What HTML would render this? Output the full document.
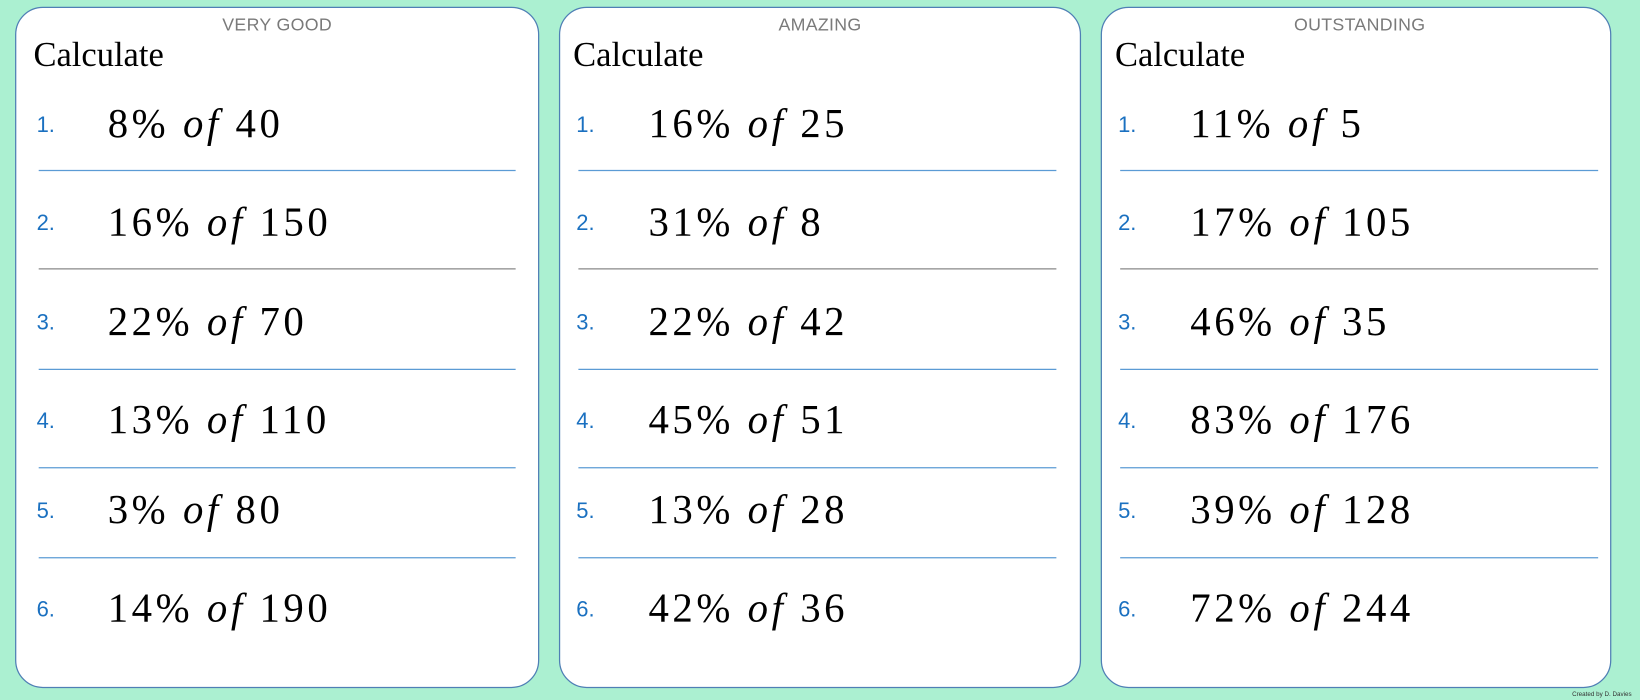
<!DOCTYPE html>
<html><head><meta charset="utf-8"><style>
html,body{margin:0;padding:0;background:#abf0d1;width:1640px;height:700px;overflow:hidden}
svg{display:block}
.h{font-family:"Liberation Sans",sans-serif;font-size:17px;fill:#7a7a7a;text-anchor:middle;letter-spacing:0.3px}
.c{font-family:"Liberation Serif",serif;font-size:33px;fill:#000}
.n{font-family:"Liberation Sans",sans-serif;font-size:21px;fill:#1a70c0}
.m{font-family:"Liberation Serif",serif;font-size:39px;fill:#000;letter-spacing:3.4px}
.i{font-style:italic}
</style></head><body>
<svg width="1640" height="700" viewBox="0 0 1568 669" preserveAspectRatio="none" xmlns="http://www.w3.org/2000/svg">
<rect width="1568" height="669" fill="#abf0d1"/>
<g>
<rect x="15" y="7" width="500" height="650" rx="26" fill="#fff" stroke="#4f7fb5" stroke-width="1.2"/>
<text class="h" x="265" y="29">VERY GOOD</text>
<text class="c" x="32" y="63">Calculate</text>
<g stroke-width="1.2">
<line x1="37" x2="493" y1="163" y2="163" stroke="#5b9bd5"/>
<line x1="37" x2="493" y1="257" y2="257" stroke="#888"/>
<line x1="37" x2="493" y1="353" y2="353" stroke="#5b9bd5"/>
<line x1="37" x2="493" y1="447" y2="447" stroke="#5b9bd5"/>
<line x1="37" x2="493" y1="533" y2="533" stroke="#5b9bd5"/>
</g>
<text class="n" x="35" y="126">1.</text><text class="m" x="103" y="131">8% <tspan class="i">of</tspan> 40</text>
<text class="n" x="35" y="220">2.</text><text class="m" x="103" y="225">16% <tspan class="i">of</tspan> 150</text>
<text class="n" x="35" y="315">3.</text><text class="m" x="103" y="320">22% <tspan class="i">of</tspan> 70</text>
<text class="n" x="35" y="409">4.</text><text class="m" x="103" y="414">13% <tspan class="i">of</tspan> 110</text>
<text class="n" x="35" y="495">5.</text><text class="m" x="103" y="500">3% <tspan class="i">of</tspan> 80</text>
<text class="n" x="35" y="589">6.</text><text class="m" x="103" y="594">14% <tspan class="i">of</tspan> 190</text>
</g>
<g>
<rect x="535" y="7" width="498" height="650" rx="26" fill="#fff" stroke="#4f7fb5" stroke-width="1.2"/>
<text class="h" x="784" y="29">AMAZING</text>
<text class="c" x="548" y="63">Calculate</text>
<g stroke-width="1.2">
<line x1="553" x2="1010" y1="163" y2="163" stroke="#5b9bd5"/>
<line x1="553" x2="1010" y1="257" y2="257" stroke="#888"/>
<line x1="553" x2="1010" y1="353" y2="353" stroke="#5b9bd5"/>
<line x1="553" x2="1010" y1="447" y2="447" stroke="#5b9bd5"/>
<line x1="553" x2="1010" y1="533" y2="533" stroke="#5b9bd5"/>
</g>
<text class="n" x="551" y="126">1.</text><text class="m" x="620" y="131">16% <tspan class="i">of</tspan> 25</text>
<text class="n" x="551" y="220">2.</text><text class="m" x="620" y="225">31% <tspan class="i">of</tspan> 8</text>
<text class="n" x="551" y="315">3.</text><text class="m" x="620" y="320">22% <tspan class="i">of</tspan> 42</text>
<text class="n" x="551" y="409">4.</text><text class="m" x="620" y="414">45% <tspan class="i">of</tspan> 51</text>
<text class="n" x="551" y="495">5.</text><text class="m" x="620" y="500">13% <tspan class="i">of</tspan> 28</text>
<text class="n" x="551" y="589">6.</text><text class="m" x="620" y="594">42% <tspan class="i">of</tspan> 36</text>
</g>
<g>
<rect x="1053" y="7" width="487" height="650" rx="26" fill="#fff" stroke="#4f7fb5" stroke-width="1.2"/>
<text class="h" x="1300" y="29">OUTSTANDING</text>
<text class="c" x="1066" y="63">Calculate</text>
<g stroke-width="1.2">
<line x1="1071" x2="1528" y1="163" y2="163" stroke="#5b9bd5"/>
<line x1="1071" x2="1528" y1="257" y2="257" stroke="#888"/>
<line x1="1071" x2="1528" y1="353" y2="353" stroke="#5b9bd5"/>
<line x1="1071" x2="1528" y1="447" y2="447" stroke="#5b9bd5"/>
<line x1="1071" x2="1528" y1="533" y2="533" stroke="#5b9bd5"/>
</g>
<text class="n" x="1069" y="126">1.</text><text class="m" x="1138" y="131">11% <tspan class="i">of</tspan> 5</text>
<text class="n" x="1069" y="220">2.</text><text class="m" x="1138" y="225">17% <tspan class="i">of</tspan> 105</text>
<text class="n" x="1069" y="315">3.</text><text class="m" x="1138" y="320">46% <tspan class="i">of</tspan> 35</text>
<text class="n" x="1069" y="409">4.</text><text class="m" x="1138" y="414">83% <tspan class="i">of</tspan> 176</text>
<text class="n" x="1069" y="495">5.</text><text class="m" x="1138" y="500">39% <tspan class="i">of</tspan> 128</text>
<text class="n" x="1069" y="589">6.</text><text class="m" x="1138" y="594">72% <tspan class="i">of</tspan> 244</text>
</g>
<text x="1560" y="665" font-family="Liberation Sans,sans-serif" font-size="6" fill="#333" text-anchor="end">Created by D. Davies</text>
</svg>
</body></html>
